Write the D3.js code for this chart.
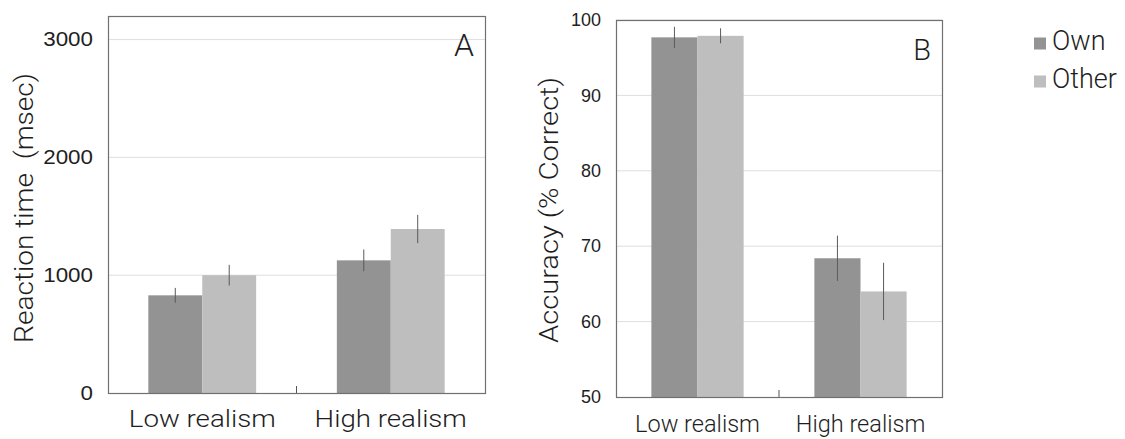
<!DOCTYPE html>
<html>
<head>
<meta charset="utf-8">
<script src="https://cdn.jsdelivr.net/npm/d3@7"></script>
<style>
  html, body { margin: 0; padding: 0; background: #fff; }
  svg { display: block; font-family: "Helvetica Neue", Roboto, "Open Sans", sans-serif; font-weight: 300; }
</style>
</head>
<body>
<svg id="chart" width="1125" height="439"></svg>
<script>
// Conditions and groups
const categories = ["Low realism", "High realism"];
const seriesNames = ["Own", "Other"];
const seriesColors = ["#939393", "#bebebe"];

// Panel A: reaction time (msec), mean and error per condition
const rtOwn = [829, 1126];
const rtOther = [1000, 1392];
const rtOwnErr = [63, 92];
const rtOtherErr = [88, 120];
const rtTicks = [0, 1000, 2000, 3000];

// Panel B: accuracy (% correct)
const accOwn = [97.7, 68.4];
const accOther = [97.9, 64.0];
const accOwnErr = [1.4, 3.0];
const accOtherErr = [1.0, 3.8];
const accTicks = [50, 60, 70, 80, 90, 100];

const TEXT = "#1e1e1e";
const svg = d3.select("#chart");

// Horizontal stretch so that a text element spans the given width
function stretchTo(node, width) {
  const w = node.getBBox().width;
  return w > 0 ? width / w : 1;
}

function panel(opts) {
  const { left, right, top, bottom, domain, ticks, own, other, ownErr, otherErr,
          yLabel, yLabelX, yLabelY, yLabelLen, yLabelSize, tickSize, tickWidth,
          catSize, catWidth, letter, letterX, letterY, letterSize, padOuter, catY } = opts;
  const g = svg.append("g");

  const x = d3.scaleBand().domain(categories).range([left, right]);
  const y = d3.scaleLinear().domain(domain).range([bottom, top]);
  const groupW = x.bandwidth() * (1 - 2 * padOuter);
  const x1 = d3.scaleBand().domain(seriesNames).range([0, groupW]);

  // Horizontal gridlines
  g.append("g").selectAll("line").data(ticks.filter(t => t !== domain[0])).join("line")
    .attr("x1", left).attr("x2", right)
    .attr("y1", d => y(d)).attr("y2", d => y(d))
    .attr("stroke", "#dedede").attr("stroke-width", 1);

  // Bars
  const rows = categories.map((c, i) => [
    { cat: c, s: "Own", v: own[i], e: ownErr[i], color: seriesColors[0] },
    { cat: c, s: "Other", v: other[i], e: otherErr[i], color: seriesColors[1] }
  ]).flat();

  const bx = d => x(d.cat) + x.bandwidth() * padOuter + x1(d.s);
  g.append("g").selectAll("rect").data(rows).join("rect")
    .attr("x", bx)
    .attr("y", d => y(d.v))
    .attr("width", x1.bandwidth())
    .attr("height", d => y(domain[0]) - y(d.v))
    .attr("fill", d => d.color);

  // Error bars
  g.append("g").selectAll("line").data(rows).join("line")
    .attr("x1", d => bx(d) + x1.bandwidth() / 2)
    .attr("x2", d => bx(d) + x1.bandwidth() / 2)
    .attr("y1", d => y(d.v + d.e))
    .attr("y2", d => y(d.v - d.e))
    .attr("stroke", "#5a5a5a").attr("stroke-width", 1);

  // Plot frame
  g.append("rect")
    .attr("x", left + 0.5).attr("y", top + 0.5)
    .attr("width", right - left).attr("height", bottom - top)
    .attr("fill", "none").attr("stroke", "#707070").attr("stroke-width", 1.2);

  // Divider tick between the two conditions
  const mid = x(categories[1]);
  g.append("line")
    .attr("x1", mid).attr("x2", mid)
    .attr("y1", bottom).attr("y2", bottom - 7)
    .attr("stroke", "#555").attr("stroke-width", 1);

  // Y tick labels
  const yAxis = d3.axisLeft(y).tickValues(ticks).tickFormat(d3.format("d"))
    .tickSize(0).tickPadding(0);
  const ya = g.append("g").attr("transform", `translate(${left - 15},0)`).call(yAxis);
  ya.select(".domain").remove();
  const tickText = ya.selectAll("text")
    .attr("font-size", tickSize).attr("fill", TEXT)
    .attr("font-family", "inherit").attr("font-weight", 300);
  const widest = tickText.nodes().reduce((a, n) => n.getBBox().width > a.getBBox().width ? n : a);
  const tsx = stretchTo(widest, tickWidth);
  tickText.attr("transform", `scale(${tsx},1)`);

  // Category labels
  const cats = g.append("g").selectAll("text").data(categories).join("text")
    .attr("text-anchor", "middle")
    .attr("font-size", catSize).attr("fill", TEXT)
    .text(d => d);
  const csx = stretchTo(cats.nodes()[0], catWidth);
  cats.attr("transform", d => `translate(${x(d) + x.bandwidth() / 2},${catY}) scale(${csx},1)`);

  // Y axis title
  const yt = g.append("text")
    .attr("text-anchor", "middle")
    .attr("font-size", yLabelSize).attr("fill", TEXT)
    .style("white-space", "pre")
    .text(yLabel);
  const ysx = stretchTo(yt.node(), yLabelLen);
  yt.attr("transform", `translate(${yLabelX},${yLabelY}) rotate(-90) scale(${ysx},1)`);

  // Panel letter
  g.append("text")
    .attr("x", letterX).attr("y", letterY)
    .attr("text-anchor", "end")
    .attr("font-size", letterSize).attr("fill", TEXT)
    .text(letter);
}

panel({
  left: 108, right: 485, top: 16, bottom: 393,
  domain: [0, 3200], ticks: rtTicks,
  own: rtOwn, other: rtOther, ownErr: rtOwnErr, otherErr: rtOtherErr,
  yLabel: "Reaction time\u00a0 (msec)", yLabelX: 32.5, yLabelY: 208, yLabelLen: 270, yLabelSize: 26,
  tickSize: 19.5, tickWidth: 50, catSize: 24.3, catWidth: 147,
  letter: "A", letterX: 474, letterY: 56, letterSize: 32, padOuter: 0.214, catY: 426.7
});

panel({
  left: 616, right: 942, top: 20, bottom: 397,
  domain: [50, 100], ticks: accTicks,
  own: accOwn, other: accOther, ownErr: accOwnErr, otherErr: accOtherErr,
  yLabel: "Accuracy (% Correct)", yLabelX: 557.5, yLabelY: 210, yLabelLen: 266, yLabelSize: 26,
  tickSize: 18, tickWidth: 30, catSize: 23.5, catWidth: 125,
  letter: "B", letterX: 931, letterY: 60, letterSize: 29, padOuter: 0.217, catY: 431.7
});

// Legend
const legend = svg.append("g");
seriesNames.forEach((name, i) => {
  const yy = 37.5 + i * 38;
  legend.append("rect")
    .attr("x", 1034).attr("y", yy)
    .attr("width", 12).attr("height", 12)
    .attr("fill", seriesColors[i]);
  legend.append("text")
    .attr("x", 1052).attr("y", yy + 12)
    .attr("font-size", 27).attr("fill", TEXT)
    .text(name);
});
</script>
</body>
</html>
